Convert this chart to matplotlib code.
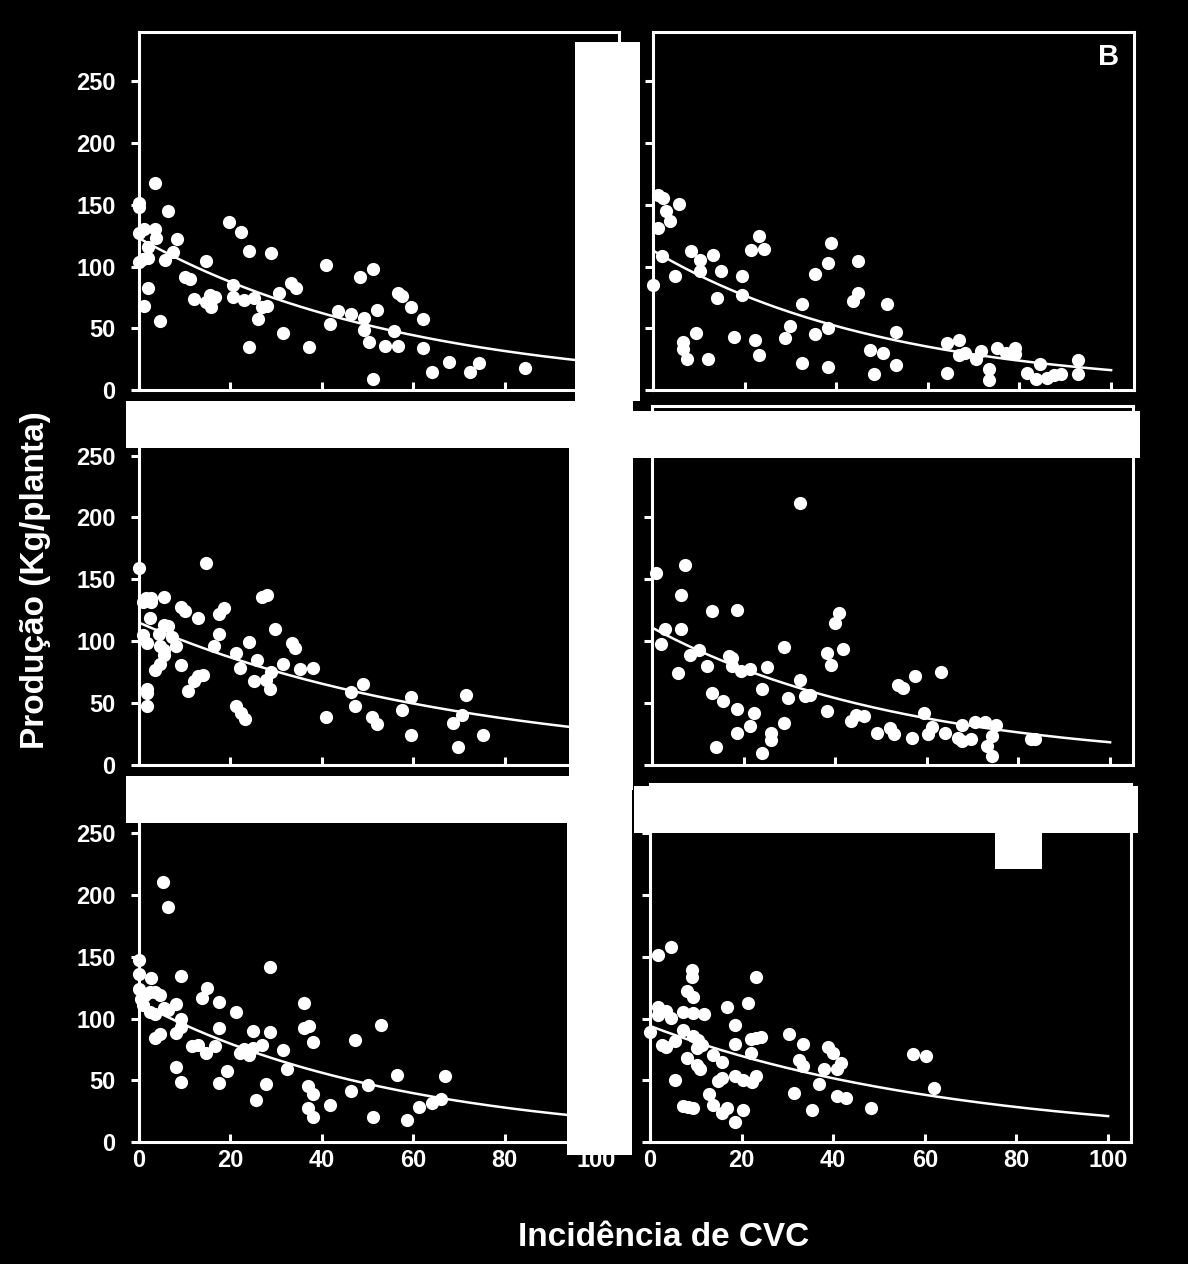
import numpy as np
import matplotlib
matplotlib.use("Agg")
import matplotlib.pyplot as plt
from matplotlib.patches import Rectangle

plt.rcParams['font.family'] = ['Liberation Sans', 'DejaVu Sans']
plt.rcParams['font.weight'] = 'bold'

W, H = 1188, 1264

# points (incidence %, yield kg/plant)
tl_x = [0, 0, 3.6, 6.4, 0, 1, 3.5, 3.7, 1.9, 8.3, 7.4, 5.6, 0, 0.8, 2, 1.9, 1, 4.6,
        19.6, 22.3, 24.1, 28.8, 14.7, 10.1, 11.2, 12.1, 14.7, 15.6, 16.7, 15.8, 20.5,
        20.5, 23, 25.1, 26.9, 28, 26, 24.1, 30.6, 31.5, 33.3, 34.4, 37.1, 40.9, 41.7,
        43.6, 46.4, 48.3, 51.2, 49.2, 49.2, 50.3, 51.2, 52.1, 53.8, 55.8, 56.7, 57.6,
        56.7, 59.4, 62.2, 62.2, 64, 67.8, 72.4, 74.3, 84.5]
tl_y = [151.6, 148.4, 168, 145.4, 126.8, 130.8, 130.3, 123.5, 116, 122, 111.4, 105.7,
        103.8, 106.5, 107.3, 82.3, 68, 56, 136.2, 128.1, 112.5, 111.1, 104.6, 91.2,
        90.3, 73.4, 71.5, 76.9, 75.5, 67.4, 85, 75.5, 72.8, 74.2, 67.4, 68.2, 57.2,
        35.1, 78.2, 46.4, 86.3, 82.3, 34.5, 101.1, 53.1, 64.2, 61.5, 91.7, 98.4, 58,
        48.5, 39.1, 8.6, 64.7, 35.6, 47.7, 78.7, 76, 35.6, 67.4, 57.2, 33.7, 14.8,
        22.9, 14.3, 21.6, 18.1]

tr_x = [1.1, 2.1, 5.7, 2.9, 3.8, 1.1, 0, 2, 4.7, 8.4, 10.2, 10.2, 13, 14.9, 14, 6.5,
        6.5, 9.3, 7.5, 12.1, 17.7, 19.4, 19.4, 21.3, 23.2, 24.2, 22.3, 23.2, 28.9,
        29.8, 32.5, 32.5, 35.3, 35.3, 38.1, 38.9, 38.1, 38.1, 43.7, 44.7, 44.7, 47.3,
        50.1, 48.2, 51.1, 53, 53, 64.1, 64.1, 66.9, 66.9, 68, 70.5, 71.6, 73.3, 73.3,
        75.2, 77.1, 79, 79, 81.6, 84.4, 83.5, 86.1, 87.5, 89.1, 92.8, 92.8]
tr_y = [158.3, 155.6, 150.8, 144.8, 136.7, 131.3, 85, 108.4, 92.2, 112.5, 105.7, 96.8,
        109.2, 96.8, 74.7, 39.1, 32.9, 45.8, 24.8, 24.8, 43.1, 92.2, 76.6, 113.5,
        125.1, 114.3, 40.5, 28.3, 41.8, 51.8, 69.8, 21.6, 94.1, 45.6, 102.5, 118.7,
        49.9, 18.9, 72, 78.7, 104.4, 32.1, 29.7, 12.7, 69.8, 47.2, 20.2, 37.8, 14,
        40.5, 28, 29.7, 24.8, 31.6, 16.7, 7.8, 34.3, 29.7, 33.7, 28.9, 14, 20.8, 8.6,
        10, 12.1, 12.7, 24, 13.2]

ml_x = [0, 0.8, 1.5, 2.6, 2.6, 5.5, 2.5, 0.9, 1.7, 5.5, 6.4, 4.3, 7.2, 4.5, 5.5, 5.5,
        8.1, 3.4, 4.5, 1.7, 1.7, 1.7, 9.2, 9.2, 10.1, 12.9, 10.8, 12, 12.9, 13.9, 14.7,
        17.6, 18.5, 17.5, 16.5, 21.3, 22.2, 21.3, 22.3, 23.2, 24, 25.8, 25.1, 26.9, 28,
        29.7, 27.7, 28.8, 28.7, 31.5, 33.4, 34.2, 35.2, 38, 40.9, 46.4, 49.1, 47.3, 51,
        52.1, 57.5, 59.6, 59.6, 68.7, 70.6, 71.5, 69.8, 75.3]
ml_y = [159.1, 132, 135.3, 134.5, 132, 135.8, 119, 104.7, 98.8, 112.8, 112.3, 106.1,
        103.6, 96, 92.8, 88.5, 96, 77.1, 81.2, 61.4, 58.2, 47.3, 80.9, 128, 124.5,
        118.5, 60, 67.6, 71.7, 72.5, 162.9, 121.8, 127.2, 105.5, 96, 90.6, 78.5, 47.3,
        41.9, 37.1, 99.6, 85.2, 68.2, 135.8, 137.4, 110.1, 69, 74.9, 61.4, 81.2, 98.8,
        94.7, 77.7, 78.5, 38.7, 59, 65.7, 47.3, 38.7, 33, 44.1, 54.7, 24.4, 33.8, 40.6,
        56.3, 14.3, 24.4]

mr_x = [0.9, 7.3, 6.4, 2.8, 1.9, 6.4, 8.4, 10.2, 5.6, 13, 18.6, 12.1, 16.7, 17.5, 17.5,
        19.4, 21.4, 25, 13, 15.6, 18.6, 22.2, 18.6, 21.3, 13.9, 24.1, 26, 26, 24.1, 28.8,
        28.8, 29.7, 32.4, 32.4, 33.5, 34.4, 38.1, 39, 39.9, 40.8, 41.8, 38.1, 43.5, 44.6,
        46.3, 49.2, 51.9, 52.9, 53.7, 54.8, 57.4, 56.7, 59.3, 60.2, 61.2, 63.1, 64, 66.7,
        67.6, 69.6, 67.7, 70.6, 72.6, 75.1, 74.2, 73.2, 74.2, 82.7, 83.6]
mr_y = [154.8, 161.8, 137.4, 110.1, 97.4, 110.1, 88.5, 92.8, 74.4, 124.5, 125.3, 79.8,
        87.9, 86.6, 79.8, 75.8, 77.7, 79.3, 58.2, 51.4, 45.2, 41.9, 25.7, 31.7, 14.3,
        61.4, 26.2, 20.3, 9.5, 95.2, 33.8, 54.1, 211.6, 69, 55.5, 56.3, 90.6, 80.6, 115,
        123.1, 93.9, 43.8, 35.7, 40.6, 39.8, 25.7, 29.8, 25.2, 64.9, 62.2, 71.7, 21.6,
        41.9, 24.9, 30.6, 74.9, 25.7, 22.2, 19.5, 20.8, 32.5, 34.6, 34.6, 32.5, 23.5,
        15.4, 7.3, 20.8, 20.8]

bl_x = [0, 0, 0, 2.6, 5.3, 6.4, 9.1, 0.4, 1.4, 2.4, 3.4, 4.5, 0.9, 2.4, 3.6, 5.5, 6.4,
        8.1, 9.1, 9.1, 8.1, 3.6, 4.5, 8.1, 9.1, 13.8, 14.8, 11.7, 12.9, 14.7, 16.7, 17.4,
        17.4, 17.4, 19.3, 21.2, 22.1, 23, 24, 24.9, 26.8, 24.9, 28.7, 28.7, 25.7, 27.8,
        31.6, 32.4, 36.2, 36.1, 37.1, 38, 37, 38, 37, 38, 41.8, 46.3, 47.3, 50.1, 51.1,
        52.9, 56.5, 58.6, 61.3, 64.1, 66, 66.9]
bl_y = [147.5, 135.7, 124.1, 132.7, 210.4, 190.1, 134.3, 116, 119.2, 121.4, 121.4,
        119.2, 110.6, 105.7, 103.8, 108.4, 107.3, 111.9, 99.8, 93, 88.2, 84.1, 87.1,
        60.7, 48.5, 116.5, 124.9, 77.7, 78.2, 72.3, 77.4, 113.3, 92.5, 47.7, 57.2, 105.2,
        72, 75.5, 70.7, 76.1, 78.2, 90.3, 142.1, 89, 33.7, 47.2, 74.7, 59.3, 112.7, 92.2,
        93.9, 80.9, 45, 38.6, 27.5, 20.2, 29.7, 41, 82.5, 45.8, 20.2, 94.4, 54.5, 17.5,
        28.3, 31.6, 35.1, 53.1]

br_x = [0, 1.7, 4.5, 1.7, 1.7, 3.6, 4.5, 2.6, 3.6, 5.5, 5.4, 7.2, 9.3, 9.1, 9.1, 8.1,
        9.3, 7.2, 9.3, 10.4, 11.3, 10.2, 8.1, 10.2, 11, 11.8, 7.2, 8.3, 9.3, 12.9, 13.8,
        13.8, 15.7, 14.8, 15.8, 15.7, 16.7, 16.7, 18.5, 18.5, 18.5, 20.3, 18.5, 20.3,
        21.3, 23.2, 22.1, 23.2, 24.2, 22.1, 22.2, 23.2, 30.4, 33.4, 32.5, 33.4, 31.5,
        35.3, 37, 37.9, 38.9, 39.9, 40.8, 41.7, 40.8, 42.8, 48.2, 57.5, 60.3, 62]
br_y = [89.5, 151.3, 158.1, 109.7, 103, 106.5, 100.3, 78.8, 76.9, 81.5, 50.5, 105.6,
        104.8, 139.2, 133.9, 122.3, 117.7, 90.9, 85.5, 82.8, 78.8, 76.1, 68, 62.6, 59.4,
        103.5, 29, 28.5, 27.7, 39, 70.2, 29.6, 64.5, 49.2, 51.9, 23.1, 27.7, 109.7, 94.9,
        79.6, 53.8, 50.5, 16.1, 25.8, 112.9, 133.3, 83.3, 84.1, 84.9, 72, 48.4, 53.2,
        87.4, 79.6, 66.7, 61.3, 39.8, 25.8, 47, 59.1, 76.6, 72, 59.1, 64, 37.6, 35.8,
        27.2, 71.5, 69.9, 43.8]

# exponential fit curves y = a*exp(-b*x)
curve_a = [123, 113, 115, 111, 113, 94]
curve_b = [0.0170, 0.0195, 0.0140, 0.0180, 0.0175, 0.0150]

yticks = [0, 50, 100, 150, 200, 250]
xticks = [0, 20, 40, 60, 80, 100]

panels = [(tl_x, tl_y), (tr_x, tr_y), (ml_x, ml_y), (mr_x, mr_y), (bl_x, bl_y), (br_x, br_y)]

# axes boxes in pixels: left, top, right, bottom
boxes = [(139, 32, 619, 390), (653, 32, 1134, 390),
         (139, 406, 619, 765), (652, 406, 1133, 765),
         (139, 784, 619, 1142), (650, 784, 1131, 1142)]

fig = plt.figure(figsize=(W / 100, H / 100), dpi=100, facecolor='black')

for i, ((px, py), (l, t, r, b)) in enumerate(zip(panels, boxes)):
    ax = fig.add_axes([l / W, 1 - b / H, (r - l) / W, (b - t) / H])
    ax.set_facecolor('black')
    ax.plot(px, py, 'o', color='white', ms=9.5, mec='none', clip_on=False, zorder=3)
    xc = np.linspace(0, 100, 200)
    ax.plot(xc, curve_a[i] * np.exp(-curve_b[i] * xc), color='white', lw=1.8, zorder=2)
    ax.set_xlim(0, 105)
    ax.set_ylim(0, 290)
    for s in ax.spines.values():
        s.set_color('white')
        s.set_linewidth(2.2)
    ax.set_xticks(xticks)
    ax.set_yticks(yticks)
    ax.tick_params(axis='y', direction='out', length=6, width=2.2, colors='white',
                   labelsize=17, pad=11)
    ax.tick_params(axis='x', direction='in', length=6, width=2.2, colors='white',
                   labelsize=17, pad=5)
    if i % 2 == 1:
        ax.set_yticklabels([])
    if i < 4:
        ax.set_xticklabels([])
    if i == 1:
        ax.text(0.97, 0.93, 'B', transform=ax.transAxes, ha='right', va='center',
                color='white', fontsize=21, fontweight='bold')

fig.text(36 / W, 1 - 580 / H, 'Produção (Kg/planta)', rotation=90, ha='center',
         va='center', color='white', fontsize=24, fontweight='bold')
fig.text(664 / W, 1 - 1237 / H, 'Incidência de CVC', ha='center', va='center',
         color='white', fontsize=24, fontweight='bold')

# white blocks covering parts of the original figure
blocks = [(575, 42, 640, 401), (126, 401, 623, 448), (623, 411, 1140, 458),
          (569, 401, 633, 790), (126, 776, 569, 823), (567, 776, 632, 1155),
          (634, 786, 1138, 833), (995, 833, 1042, 869)]
for x0, y0, x1, y1 in blocks:
    fig.patches.append(Rectangle((x0 / W, 1 - y1 / H), (x1 - x0) / W, (y1 - y0) / H,
                                 transform=fig.transFigure, facecolor='white',
                                 edgecolor='none', zorder=10))

fig.savefig('out.png', dpi=100, facecolor='black')
